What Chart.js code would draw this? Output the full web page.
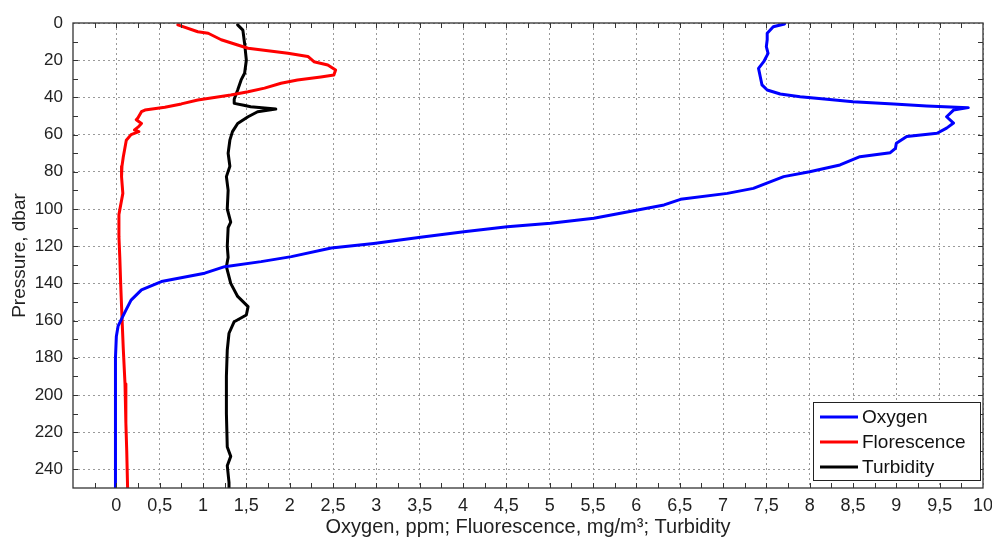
<!DOCTYPE html>
<html><head><meta charset="utf-8">
<script src="https://cdn.jsdelivr.net/npm/chart.js@4.4.1/dist/chart.umd.min.js"></script>
<style>html,body{margin:0;padding:0;background:#fff}#wrap{width:992px;height:539px}</style>
</head><body><div id="wrap"><canvas id="c" width="992" height="539"></canvas></div>
<script>
// ---- Data (pressure in dbar, value on x) ----
const oxygenPressure = [0.5, 2, 5.5, 9, 12.7, 16.3, 20.8, 24.4, 28.9, 33.3, 36, 38.2, 39.6, 41, 42.3, 43.5, 44.6, 45.5, 46.8, 50.4, 53.8, 56.5, 59.3, 61, 64.6, 67.4, 69.7, 71.9, 76.3, 80, 82.6, 88.9, 91.6, 94.8, 97.8, 100.9, 105, 107.7, 109.5, 112.2, 115.2, 118.5, 121, 125.6, 128.3, 131, 134.5, 139, 143.5, 149, 154, 158.7, 163, 168.6, 180, 200, 220, 250];
const oxygenValues = [7.71, 7.58, 7.51, 7.51, 7.50, 7.52, 7.47, 7.41, 7.43, 7.45, 7.51, 7.66, 7.89, 8.2, 8.5, 8.97, 9.35, 9.83, 9.66, 9.58, 9.66, 9.58, 9.47, 9.12, 9.0, 8.99, 8.93, 8.58, 8.35, 8.0, 7.70, 7.35, 7.05, 6.51, 6.32, 5.97, 5.51, 5.01, 4.51, 4.01, 3.51, 2.97, 2.48, 2.02, 1.67, 1.25, 1.02, 0.52, 0.29, 0.17, 0.115, 0.065, 0.02, 0.0, -0.01, -0.01, -0.01, -0.01];

const fluorPressure = [1, 4.7, 5.5, 9, 11.8, 13.6, 14.9, 16.3, 18, 20.8, 22.6, 25.3, 28, 29, 30.6, 32.4, 35, 37, 38.7, 40, 41.4, 43.5, 45.3, 46.8, 47.7, 51, 52, 54, 56, 57.5, 58.4, 60, 63, 72, 77, 82.6, 91.6, 103, 115, 126, 140, 158, 175, 194, 215, 230, 250];
const fluorValues = [0.71, 0.94, 1.06, 1.21, 1.40, 1.52, 1.75, 1.98, 2.21, 2.28, 2.44, 2.53, 2.51, 2.36, 2.09, 1.90, 1.71, 1.52, 1.32, 1.13, 0.94, 0.75, 0.56, 0.33, 0.29, 0.25, 0.23, 0.29, 0.25, 0.21, 0.26, 0.17, 0.115, 0.08, 0.065, 0.06, 0.075, 0.03, 0.03, 0.04, 0.05, 0.065, 0.08, 0.10, 0.11, 0.12, 0.13];

const turbPressure = [1, 3.8, 11, 20, 27, 30.6, 36, 41, 43.2, 44.2, 45, 46.3, 47.7, 50.4, 54, 58.4, 63, 70, 77, 82.6, 90, 100, 107, 110, 120, 126, 131, 140, 147, 152.5, 157, 160.6, 166.8, 175.8, 190, 210, 228, 233, 238, 247, 250];
const turbValues = [1.40, 1.46, 1.48, 1.50, 1.48, 1.44, 1.40, 1.36, 1.36, 1.47, 1.55, 1.84, 1.63, 1.52, 1.40, 1.34, 1.31, 1.29, 1.31, 1.27, 1.29, 1.28, 1.32, 1.29, 1.28, 1.29, 1.27, 1.32, 1.40, 1.52, 1.50, 1.36, 1.30, 1.28, 1.27, 1.27, 1.28, 1.32, 1.28, 1.30, 1.30];

const seriesNames = ['Oxygen', 'Florescence', 'Turbidity'];
const xTickValues = [0, 0.5, 1, 1.5, 2, 2.5, 3, 3.5, 4, 4.5, 5, 5.5, 6, 6.5, 7, 7.5, 8, 8.5, 9, 9.5, 10];
const yTickValues = [0, 20, 40, 60, 80, 100, 120, 140, 160, 180, 200, 220, 240];
const xTitle = 'Oxygen, ppm; Fluorescence, mg/m³; Turbidity';
const yTitle = 'Pressure, dbar';

const FONT = '"Liberation Sans", Arial, Helvetica, sans-serif';
const toPts = (ps, vs) => ps.map((p, i) => ({x: vs[i], y: p}));

const boxPlugin = {
  id: 'matlabBox',
  afterDraw(chart) {
    const {ctx, chartArea: a, scales: {x, y}} = chart;
    ctx.save();
    ctx.strokeStyle = '#333';
    ctx.lineWidth = 1.3;
    ctx.setLineDash([]);
    ctx.strokeRect(a.left, a.top, a.right - a.left, a.bottom - a.top);
    const tl = 5;
    ctx.lineWidth = 1;
    ctx.beginPath();
    for (let v = -0.25; v < 10; v += 0.25) {
      const px = Math.round(x.getPixelForValue(v)) + 0.5;
      ctx.moveTo(px, a.top); ctx.lineTo(px, a.top + tl);
      ctx.moveTo(px, a.bottom); ctx.lineTo(px, a.bottom - tl);
    }
    for (let v = 10; v < 250; v += 10) {
      const py = Math.round(y.getPixelForValue(v)) + 0.5;
      ctx.moveTo(a.left, py); ctx.lineTo(a.left + tl, py);
      ctx.moveTo(a.right, py); ctx.lineTo(a.right - tl, py);
    }
    ctx.stroke();
    // legend
    const bw = 167, bh = 78;
    const bx = a.right - 3 - bw, by = a.bottom - 8 - bh;
    ctx.fillStyle = '#fff';
    ctx.fillRect(bx, by, bw, bh);
    ctx.strokeStyle = '#222';
    ctx.lineWidth = 1;
    ctx.strokeRect(bx + 0.5, by + 0.5, bw, bh);
    ctx.font = '19px ' + FONT;
    ctx.textBaseline = 'middle';
    chart.data.datasets.forEach((ds, i) => {
      const cy = by + 15 + i * 25;
      ctx.strokeStyle = ds.borderColor;
      ctx.lineWidth = 3;
      ctx.beginPath();
      ctx.moveTo(bx + 7, cy); ctx.lineTo(bx + 45, cy);
      ctx.stroke();
      ctx.fillStyle = '#111';
      ctx.fillText(ds.label, bx + 49, cy + 1);
    });
    ctx.restore();
  }
};

new Chart(document.getElementById('c'), {
  type: 'line',
  data: {
    datasets: [
      {label: seriesNames[0], data: toPts(oxygenPressure, oxygenValues), borderColor: '#0000ff'},
      {label: seriesNames[1], data: toPts(fluorPressure, fluorValues), borderColor: '#ff0000'},
      {label: seriesNames[2], data: toPts(turbPressure, turbValues), borderColor: '#000000'}
    ].map(d => Object.assign(d, {borderWidth: 3, pointRadius: 0, tension: 0, fill: false, borderJoinStyle: 'round', borderCapStyle: 'round'}))
  },
  options: {
    responsive: false,
    animation: false,
    devicePixelRatio: 1,
    layout: {padding: {top: 23, right: 9, left: 0, bottom: 0}},
    plugins: {legend: {display: false}, tooltip: {enabled: false}},
    scales: {
      x: {
        type: 'linear', min: -0.5, max: 10,
        afterBuildTicks: s => { s.ticks = xTickValues.map(v => ({value: v})); },
        afterFit: s => { s.height = 51; s.paddingLeft = 0; s.paddingRight = 0; },
        ticks: {callback: v => String(v).replace('.', ','), font: {size: 18, family: FONT}, color: '#222', padding: 7, maxRotation: 0, autoSkip: false},
        grid: {color: '#9a9a9a', lineWidth: 1, drawTicks: false},
        border: {display: false, dash: [2, 3]},
        title: {display: true, text: xTitle, font: {size: 20, family: FONT}, color: '#222', padding: {top: 0, bottom: 0}}
      },
      y: {
        type: 'linear', min: 0, max: 250, reverse: true,
        afterBuildTicks: s => { s.ticks = yTickValues.map(v => ({value: v})); },
        afterFit: s => { s.width = 73; s.paddingTop = 0; s.paddingBottom = 0; },
        ticks: {font: {size: 17, family: FONT}, color: '#222', padding: 10, autoSkip: false},
        grid: {color: '#9a9a9a', lineWidth: 1, drawTicks: false},
        border: {display: false, dash: [2, 3]},
        title: {display: true, text: yTitle, font: {size: 19, family: FONT}, color: '#222', padding: {top: 8, bottom: 0}}
      }
    }
  },
  plugins: [boxPlugin]
});
</script>
</body></html>
